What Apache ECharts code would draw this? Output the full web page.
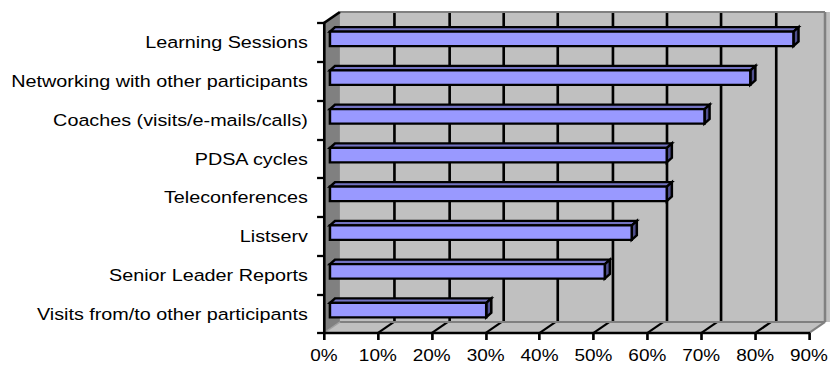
<!DOCTYPE html>
<html>
<head>
<meta charset="utf-8">
<script src="https://cdn.jsdelivr.net/npm/echarts@6/dist/echarts.min.js"></script>
<style>
  html, body { margin: 0; padding: 0; background: #fff; overflow: hidden; }
  /* the chart is laid out on a narrower canvas and widened horizontally */
  #chart { width: 723px; height: 365px; transform: scaleX(1.15); transform-origin: 0 0; }
</style>
</head>
<body>
<div id="chart"></div>
<script>
// Categories, top to bottom
const categories = [
  'Learning Sessions',
  'Networking with other participants',
  'Coaches (visits/e-mails/calls)',
  'PDSA cycles',
  'Teleconferences',
  'Listserv',
  'Senior Leader Reports',
  'Visits from/to other participants'
];

// Share of respondents per category
const shares = [0.86, 0.78, 0.695, 0.625, 0.625, 0.56, 0.51, 0.29];

// Percentage axis
const axisMax = 0.9;
const axisStep = 0.1;
const tickLabels = ['0%', '10%', '20%', '30%', '40%', '50%', '60%', '70%', '80%', '90%'];

// Layout (in the un-widened coordinate space)
const PLOT = { left: 281.7, top: 23, width: 426.1, height: 310 };
const DEPTH = { dx: 13.9, dy: -11 };          // offset from front plane to back wall
const BAR_FRONT = { dx: 5.2, dy: -3.5 };      // bar front face offset
const BAR_BACK = { dx: 9.6, dy: -8 };         // bar back face offset
const FONT = '"Liberation Sans", Arial, Helvetica, sans-serif';

const black = { color: '#000', width: 2.3 };

// Side wall, floor, floor grid and wall edges
function renderFrame(params, api) {
  const cs = params.coordSys;
  const x0 = cs.x, x1 = cs.x + cs.width;
  const yT = cs.y, yB = cs.y + cs.height;
  const dx = DEPTH.dx, dy = DEPTH.dy;
  const children = [];
  children.push({
    type: 'polygon',
    shape: { points: [[x0, yT], [x0 + dx, yT + dy], [x0 + dx, yB + dy], [x0, yB]] },
    style: { fill: '#808080' }
  });
  children.push({
    type: 'polygon',
    shape: { points: [[x0, yB], [x0 + dx, yB + dy], [x1 + dx, yB + dy], [x1, yB]] },
    style: { fill: '#C0C0C0' }
  });
  const steps = Math.round(axisMax / axisStep);
  for (let i = 1; i < steps; i++) {
    const xv = api.coord([i * axisStep, 0])[0];
    children.push({
      type: 'line',
      shape: { x1: xv, y1: yB, x2: xv + dx, y2: yB + dy },
      style: { stroke: '#000', lineWidth: 2.2 }
    });
  }
  const grey = { stroke: '#808080', lineWidth: 2.2 };
  // back wall top, right, bottom edges
  children.push({ type: 'line', shape: { x1: x0 + dx, y1: yT + dy, x2: x1 + dx, y2: yT + dy }, style: grey });
  children.push({ type: 'line', shape: { x1: x1 + dx, y1: yT + dy, x2: x1 + dx, y2: yB + dy }, style: grey });
  children.push({ type: 'line', shape: { x1: x0 + dx, y1: yB + dy, x2: x1 + dx, y2: yB + dy }, style: grey });
  // floor right edge and side-wall/floor seam
  children.push({ type: 'line', shape: { x1: x1 + dx, y1: yB + dy, x2: x1, y2: yB }, style: grey });
  children.push({ type: 'line', shape: { x1: x0, y1: yB, x2: x0 + dx, y2: yB + dy }, style: { stroke: '#A0A0A0', lineWidth: 1.5 } });
  // side wall top edge
  children.push({ type: 'line', shape: { x1: x0, y1: yT, x2: x0 + dx, y2: yT + dy }, style: { stroke: '#000', lineWidth: 2.3 } });
  return { type: 'group', children };
}

// Extruded horizontal bar
function renderBar(params, api) {
  const v = api.value(0), c = api.value(1);
  const base = api.coord([0, c]);
  const end = api.coord([v, c]);
  const band = api.size([0, 1])[1];
  const h = band * 0.186;
  const yc = base[1];
  const fl = base[0] + BAR_FRONT.dx, fr = end[0] + BAR_FRONT.dx;
  const ft = yc - h + BAR_FRONT.dy, fb = yc + h + BAR_FRONT.dy;
  const bl = base[0] + BAR_BACK.dx, br = end[0] + BAR_BACK.dx;
  const bt = yc - h + BAR_BACK.dy, bb = yc + h + BAR_BACK.dy;
  const edge = { stroke: '#000', lineWidth: 2.2, lineJoin: 'miter' };
  return {
    type: 'group',
    children: [
      { type: 'polygon', shape: { points: [[fl, ft], [fr, ft], [br, bt], [bl, bt]] },
        style: Object.assign({ fill: '#7373C2' }, edge) },
      { type: 'polygon', shape: { points: [[fr, ft], [br, bt], [br, bb], [fr, fb]] },
        style: Object.assign({ fill: '#50508E' }, edge) },
      { type: 'rect', shape: { x: fl, y: ft, width: fr - fl, height: fb - ft },
        style: Object.assign({ fill: '#9999FF' }, edge) }
    ]
  };
}

const chart = echarts.init(document.getElementById('chart'), null, { renderer: 'svg' });

chart.setOption({
  animation: false,
  backgroundColor: '#ffffff',
  textStyle: { fontFamily: FONT },
  grid: [
    { left: PLOT.left, top: PLOT.top, width: PLOT.width, height: PLOT.height, containLabel: false },
    { left: PLOT.left + DEPTH.dx, top: PLOT.top + DEPTH.dy, width: PLOT.width, height: PLOT.height,
      show: true, backgroundColor: '#C0C0C0', borderWidth: 0, containLabel: false }
  ],
  xAxis: [
    {
      gridIndex: 0, type: 'value', min: 0, max: axisMax, interval: axisStep, z: 5,
      axisLine: { show: true, lineStyle: black },
      axisTick: { show: true, length: 7, lineStyle: black },
      axisLabel: {
        show: true, color: '#000', fontSize: 16.5, margin: 14, fontFamily: FONT,
        showMinLabel: true, showMaxLabel: true,
        formatter: (v) => tickLabels[Math.round(v / axisStep)]
      },
      splitLine: { show: false }
    },
    {
      gridIndex: 1, type: 'value', min: 0, max: axisMax, interval: axisStep,
      axisLine: { show: false }, axisTick: { show: false }, axisLabel: { show: false },
      splitLine: { show: true, showMinLine: false, showMaxLine: false, lineStyle: black }
    }
  ],
  yAxis: [
    {
      gridIndex: 0, type: 'category', data: categories, inverse: true, z: 5,
      axisLine: { show: true, lineStyle: black },
      axisTick: { show: true, length: 6, lineStyle: black },
      axisLabel: { show: true, interval: 0, color: '#000', fontSize: 17.2, margin: 14, fontFamily: FONT },
      splitLine: { show: false }
    },
    {
      gridIndex: 1, type: 'category', data: categories, inverse: true, show: false
    }
  ],
  series: [
    {
      type: 'custom', name: 'frame', xAxisIndex: 0, yAxisIndex: 0, z: 2,
      silent: true, clip: false,
      data: [[0, 0]],
      renderItem: renderFrame
    },
    {
      type: 'custom', name: 'Share', xAxisIndex: 0, yAxisIndex: 0, z: 3,
      clip: false,
      data: shares.map((v, i) => [v, i]),
      renderItem: renderBar
    }
  ]
});
</script>
</body>
</html>
